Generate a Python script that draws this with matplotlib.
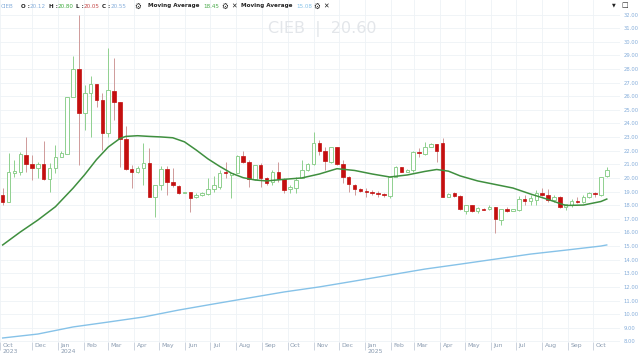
import numpy as np
import matplotlib.pyplot as plt
import matplotlib.dates as mdates
from matplotlib.transforms import ScaledTranslation
from datetime import datetime, timedelta

# ---------------- data (weekly candles) ----------------
first_week = datetime(2023, 10, 27)

opens = [18.75, 18.23, 20.36, 20.44, 21.68, 21.02, 20.73, 21.02, 19.92, 20.73,
         21.54, 21.76, 25.94, 28.00, 24.77, 26.24, 26.90, 25.72, 23.30, 26.38,
         25.58, 22.86, 20.66, 20.44, 20.73, 21.10, 18.60, 19.48, 20.66, 19.70,
         19.41, 18.89, 18.97, 18.60, 18.75, 18.82, 19.19, 19.33, 20.44, 20.22,
         20.36, 21.61, 21.17, 19.92, 20.95, 20.00, 19.70, 20.44, 19.92, 19.19,
         19.26, 20.00, 20.58, 21.02, 22.57, 21.98, 21.17, 22.27, 21.02, 20.07,
         19.48, 19.19, 19.04, 18.97, 18.89, 18.82, 18.67, 20.07, 20.80, 20.44,
         20.58, 21.90, 21.76, 22.27, 22.49, 22.57, 18.60, 18.89, 18.67, 17.57,
         18.01, 17.57, 17.72, 17.72, 17.87, 16.91, 17.72, 17.57, 17.65, 18.45,
         18.31, 18.38, 18.89, 18.75, 18.38, 18.60, 17.87, 18.01, 18.31, 18.23,
         18.60, 18.89, 18.75, 20.12]
highs = [19.26, 21.83, 21.32, 21.90, 23.01, 21.68, 21.17, 22.71, 21.10, 22.42,
         21.98, 25.94, 28.95, 31.96, 26.82, 27.48, 26.90, 26.24, 29.54, 28.81,
         25.58, 23.81, 20.95, 20.88, 22.57, 22.20, 19.48, 20.88, 20.88, 20.73,
         19.48, 18.97, 18.97, 18.89, 18.97, 20.00, 20.14, 20.58, 21.17, 20.36,
         21.68, 21.98, 21.32, 20.95, 21.10, 20.07, 20.58, 21.17, 20.00, 19.48,
         20.07, 21.32, 21.10, 23.37, 22.79, 22.27, 22.27, 22.27, 21.32, 20.14,
         19.56, 19.26, 19.26, 19.11, 19.04, 18.89, 20.14, 20.88, 20.80, 20.66,
         21.98, 22.20, 22.64, 22.57, 22.49, 22.94, 18.89, 18.97, 18.75, 18.01,
         18.01, 17.87, 17.79, 18.01, 17.87, 17.72, 17.87, 17.72, 18.67, 18.75,
         18.75, 19.11, 19.26, 19.19, 18.75, 18.67, 18.09, 18.45, 18.60, 18.75,
         18.97, 18.97, 20.07, 20.80]
lows = [18.01, 18.23, 20.07, 20.22, 20.44, 19.85, 20.00, 19.85, 18.97, 20.36,
        21.54, 21.76, 25.94, 20.95, 23.52, 23.01, 25.21, 22.05, 23.01, 24.25,
        20.80, 20.58, 19.26, 20.36, 19.48, 18.60, 17.13, 19.11, 18.75, 19.33,
        18.82, 18.89, 17.50, 18.53, 18.67, 18.75, 18.97, 19.19, 20.00, 18.53,
        20.36, 21.10, 19.33, 19.85, 19.33, 19.48, 19.48, 19.70, 18.89, 18.89,
        18.89, 20.00, 20.51, 20.95, 21.68, 20.58, 21.10, 20.95, 19.63, 18.97,
        18.75, 18.97, 18.60, 18.75, 18.60, 18.60, 18.53, 20.07, 20.44, 20.44,
        20.44, 21.54, 21.68, 22.27, 21.17, 18.60, 18.60, 18.60, 17.65, 17.35,
        17.50, 17.43, 17.65, 17.65, 15.95, 16.54, 17.50, 17.57, 17.57, 18.01,
        18.01, 18.01, 18.67, 18.23, 18.23, 17.79, 17.65, 17.87, 18.16, 18.16,
        18.53, 18.60, 18.67, 20.05]
closes = [18.23, 20.44, 20.51, 21.76, 21.02, 20.73, 21.02, 19.92, 20.73, 21.54,
          21.83, 25.94, 28.00, 24.77, 26.24, 26.90, 25.72, 23.30, 26.46, 25.58,
          22.86, 20.66, 20.44, 20.73, 21.10, 18.60, 19.48, 20.66, 19.70, 19.48,
          18.89, 18.97, 18.53, 18.75, 18.89, 19.19, 19.48, 20.36, 20.36, 20.36,
          21.61, 21.17, 19.92, 20.95, 20.00, 19.63, 20.44, 19.92, 19.11, 19.33,
          19.85, 20.58, 21.02, 22.57, 21.98, 21.25, 22.27, 21.02, 20.07, 19.56,
          19.19, 19.04, 18.97, 18.89, 18.82, 18.75, 20.07, 20.80, 20.44, 20.58,
          21.90, 21.83, 22.27, 22.49, 21.98, 18.60, 18.82, 18.67, 17.72, 18.01,
          17.57, 17.79, 17.65, 17.87, 16.98, 17.72, 17.57, 17.72, 18.45, 18.31,
          18.53, 18.89, 18.75, 18.38, 18.60, 17.87, 18.09, 18.31, 18.23, 18.60,
          18.89, 18.82, 20.07, 20.55]

# moving averages sampled at candle indices
ma_fast_idx = [0, 3, 6, 9, 12, 14, 16, 18, 20, 21, 23, 25, 27, 29, 31, 33, 35, 37,
               39, 41, 43, 45, 48, 51, 54, 57, 60, 63, 66, 69, 72, 74, 76, 78, 81,
               84, 87, 90, 93, 96, 99, 102, 103]
ma_fast = [15.08, 16.03, 16.91, 17.89, 19.25, 20.25, 21.35, 22.27, 22.90, 23.05,
           23.10, 23.05, 23.01, 22.95, 22.65, 22.05, 21.40, 20.85, 20.35, 20.02,
           19.85, 19.78, 19.90, 20.00, 20.29, 20.68, 20.55, 20.29, 20.07, 20.22,
           20.48, 20.62, 20.50, 20.15, 19.78, 19.52, 19.26, 18.82, 18.42, 17.98,
           18.01, 18.27, 18.45]
ma_slow_idx = [0, 6, 12, 18, 24, 30, 36, 42, 48, 54, 60, 66, 72, 78, 84, 90, 96, 102, 103]
ma_slow = [8.25, 8.54, 9.06, 9.42, 9.79, 10.30, 10.75, 11.19, 11.63, 12.00,
           12.43, 12.87, 13.31, 13.67, 14.04, 14.41, 14.70, 15.00, 15.08]

tick_dates = ['2023-10-24', '2023-12-01', '2024-01-01', '2024-02-01', '2024-03-01',
              '2024-04-01', '2024-05-01', '2024-06-01', '2024-07-01', '2024-08-01',
              '2024-09-01', '2024-10-01', '2024-11-01', '2024-12-01', '2025-01-01',
              '2025-02-01', '2025-03-01', '2025-04-01', '2025-05-01', '2025-06-01',
              '2025-07-01', '2025-08-01', '2025-09-01', '2025-10-01']
tick_labels = ['Oct\n2023', 'Dec', 'Jan\n2024', 'Feb', 'Mar', 'Apr', 'May', 'Jun', 'Jul',
               'Aug', 'Sep', 'Oct', 'Nov', 'Dec', 'Jan\n2025', 'Feb', 'Mar', 'Apr',
               'May', 'Jun', 'Jul', 'Aug', 'Sep', 'Oct']

# ---------------- colours ----------------
UP_EDGE = '#8fd08f'
DN_BODY = '#c40f0f'
DN_WICK = '#cf9a9a'
MA_FAST = '#3f8f3f'
MA_SLOW = '#86c2e8'
AX_TXT = '#86aedb'
GRID = '#eef2f6'

fig = plt.figure(figsize=(6.4, 3.59), dpi=100)
ax = fig.add_axes([0, 17 / 359, 620 / 640, 342 / 359])

dates = [first_week + timedelta(days=7 * i) for i in range(len(opens))]
xs = mdates.date2num(dates)
o = np.array(opens); h = np.array(highs); l = np.array(lows); c = np.array(closes)
up = c >= o

for i in range(len(xs)):
    wick = UP_EDGE if up[i] else DN_WICK
    ax.vlines(xs[i], l[i], h[i], color=wick, lw=0.7, zorder=2)
    bottom = min(o[i], c[i])
    height = max(abs(c[i] - o[i]), 0.06)
    if up[i]:
        ax.bar(xs[i], height, bottom=bottom, width=4.2, facecolor='white',
               edgecolor=UP_EDGE, linewidth=0.7, zorder=3)
    else:
        ax.bar(xs[i], height, bottom=bottom, width=4.2, facecolor=DN_BODY,
               edgecolor=DN_BODY, linewidth=0.5, zorder=3)

ax.plot(xs[ma_fast_idx], ma_fast, color=MA_FAST, lw=1.1, zorder=4)
ax.plot(xs[ma_slow_idx], ma_slow, color=MA_SLOW, lw=1.0, zorder=4)

left = mdates.date2num(first_week - timedelta(days=3.2))
ax.set_xlim(left, left + 740)
ax.set_ylim(7.955, 33.065)

# axes styling
for s in ax.spines.values():
    s.set_visible(False)
ax.yaxis.tick_right()
ax.set_yticks(range(8, 33))
ax.set_yticklabels([f'{v:.2f}' for v in range(8, 33)])
ax.tick_params(axis='y', length=0, pad=2.5, labelsize=3.8, labelcolor=AX_TXT)
ax.set_xticks(mdates.date2num([datetime.fromisoformat(d) for d in tick_dates]))
ax.set_xticklabels(tick_labels)
ax.tick_params(axis='x', length=6, width=0.5, color='#b9c4d2', direction='out',
               pad=-5.2, labelsize=4.4, labelcolor='#8a9bb0')
shift = ScaledTranslation(2.5 / 100, 0, fig.dpi_scale_trans)
for lab in ax.get_xticklabels():
    lab.set_horizontalalignment('left')
    lab.set_verticalalignment('top')
    lab.set_linespacing(1.15)
    lab.set_transform(lab.get_transform() + shift)
ax.grid(True, color=GRID, lw=0.6, zorder=0)
ax.set_axisbelow(True)

# watermark
ax.text(0.52, 0.915, 'CIEB  |  20.60', transform=ax.transAxes, fontsize=11.5,
        color='#e3e6ea', ha='center', va='center', zorder=1)

# header legend
def px(x, y, s, color, bold=False, size=4.1):
    fig.text(x / 640, 1 - y / 359, s, color=color, fontsize=size, va='center',
             ha='left', fontweight='bold' if bold else 'normal')

DARK = '#222222'
px(1, 6, 'CIEB', AX_TXT)
px(21, 6, 'O :', DARK, True)
px(30, 6, '20.12', AX_TXT)
px(49, 6, 'H :', DARK, True)
px(58, 6, '20.80', '#3faa3f')
px(76, 6, 'L :', DARK, True)
px(84, 6, '20.05', '#c44a4a')
px(102, 6, 'C :', DARK, True)
px(111, 6, '20.55', AX_TXT)
px(134, 6, '⚙', DARK, False, 5.5)
px(148, 6, 'Moving Average', DARK, True)
px(203, 6, '18.45', '#4aaa4a')
px(221, 6, '⚙', DARK, False, 5.5)
px(231, 6, '✕', DARK, False, 4.8)
px(241, 6, 'Moving Average', DARK, True)
px(296, 6, '15.08', MA_SLOW)
px(313, 6, '⚙', DARK, False, 5.5)
px(323, 6, '✕', DARK, False, 4.8)
px(612, 5, '▼', DARK, False, 3.5)
px(621, 5, '□', DARK, False, 5)

fig.savefig('out.png', dpi=100)
